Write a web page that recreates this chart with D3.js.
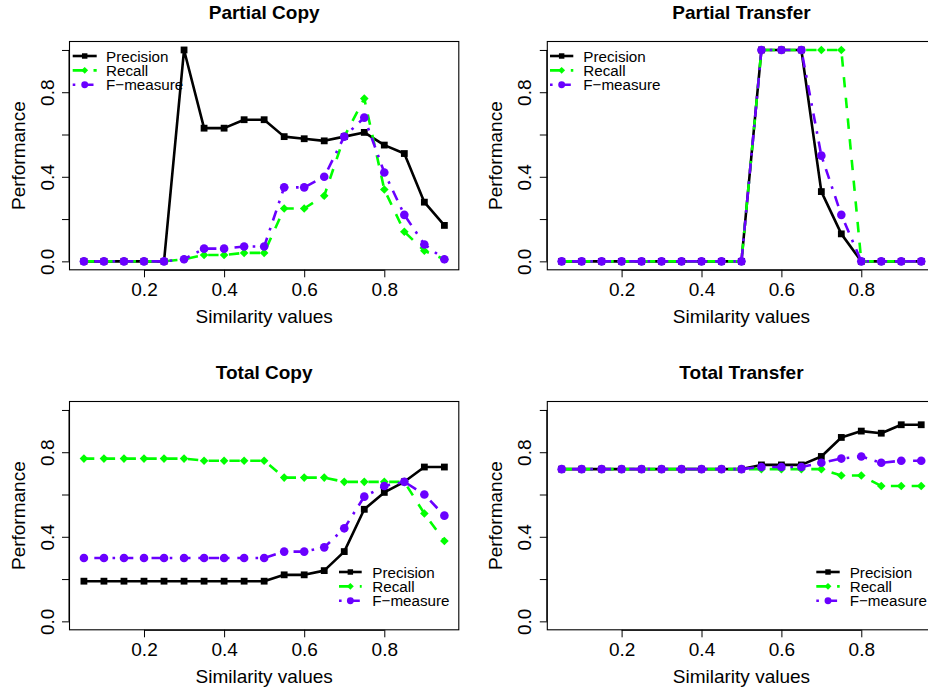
<!DOCTYPE html>
<html><head><meta charset="utf-8">
<script src="https://cdn.jsdelivr.net/npm/d3@7"></script>
<style>html,body{margin:0;padding:0;background:#fff;} svg{display:block;}</style>
</head><body><svg id="chart" width="928" height="692"></svg>
<script>
// ---------- data ----------
const similarity = [0.05,0.10,0.15,0.20,0.25,0.30,0.35,0.40,0.45,0.50,0.55,0.60,0.65,0.70,0.75,0.80,0.85,0.90,0.95];
const xTicks = [0.2,0.4,0.6,0.8];
const xTickLabels = ["0.2","0.4","0.6","0.8"];
const yTicks = [0,0.2,0.4,0.6,0.8,1.0];
const yTickLabels = ["0.0","","0.4","","0.8",""];
const seriesNames = ["Precision","Recall","F\u2212measure"];
const panelTitles = ["Partial Copy","Partial Transfer","Total Copy","Total Transfer"];
const xAxisTitle = "Similarity values";
const yAxisTitle = "Performance";

const partialCopyPrecision = [0,0,0,0,0,1.00,0.63,0.63,0.67,0.67,0.59,0.58,0.57,0.59,0.61,0.55,0.51,0.28,0.17];
const partialCopyRecall    = [0,0,0,0,0,0.01,0.03,0.03,0.04,0.04,0.25,0.25,0.31,0.59,0.77,0.34,0.14,0.05,0.01];
const partialCopyF         = [0,0,0,0,0,0.01,0.06,0.06,0.07,0.07,0.35,0.35,0.40,0.59,0.68,0.42,0.22,0.08,0.01];

const partialTransferPrecision = [0,0,0,0,0,0,0,0,0,0,1,1,1,0.33,0.13,0,0,0,0];
const partialTransferRecall    = [0,0,0,0,0,0,0,0,0,0,1,1,1,1,1,0,0,0,0];
const partialTransferF         = [0,0,0,0,0,0,0,0,0,0,1,1,1,0.50,0.22,0,0,0,0];

const totalCopyPrecision = [0.19,0.19,0.19,0.19,0.19,0.19,0.19,0.19,0.19,0.19,0.22,0.22,0.24,0.33,0.53,0.61,0.66,0.73,0.73];
const totalCopyRecall    = [0.77,0.77,0.77,0.77,0.77,0.77,0.76,0.76,0.76,0.76,0.68,0.68,0.68,0.66,0.66,0.66,0.66,0.51,0.38];
const totalCopyF         = [0.30,0.30,0.30,0.30,0.30,0.30,0.30,0.30,0.30,0.30,0.33,0.33,0.35,0.44,0.59,0.64,0.66,0.60,0.50];

const totalTransferPrecision = [0.72,0.72,0.72,0.72,0.72,0.72,0.72,0.72,0.72,0.72,0.74,0.74,0.74,0.78,0.87,0.90,0.89,0.93,0.93];
const totalTransferRecall    = [0.72,0.72,0.72,0.72,0.72,0.72,0.72,0.72,0.72,0.72,0.72,0.72,0.72,0.72,0.69,0.69,0.64,0.64,0.64];
const totalTransferF         = [0.72,0.72,0.72,0.72,0.72,0.72,0.72,0.72,0.72,0.72,0.73,0.73,0.73,0.75,0.77,0.78,0.75,0.76,0.76];

// ---------- styles ----------
const FONT = "'Liberation Sans', Arial, Helvetica, sans-serif";
const LW = 2.6;
const seriesStyles = [
  {color:"#000000", dash:null, shape:"square"},
  {color:"#00ff00", dash:[4*LW,4*LW].join(","), shape:"diamond"},
  {color:"#6a00ff", dash:[1*LW,3*LW,4*LW,3*LW].join(","), shape:"circle"}
];

// ---------- layout ----------
const panels = [
  {title:panelTitles[0], series:[partialCopyPrecision,partialCopyRecall,partialCopyF],
   x0:69.5, x1:458.8, yT:41.5, yB:269.8, titleY:19, xTickY:296, xLabY:323.3, yTickX:53.5, yLabX:25,
   leg:{l0:72.7, l1:96.7, tx:106, y:56}},
  {title:panelTitles[1], series:[partialTransferPrecision,partialTransferRecall,partialTransferF],
   x0:547.3, x1:935.6, yT:41.5, yB:269.8, titleY:19, xTickY:296, xLabY:323.3, yTickX:531.3, yLabX:502.3,
   leg:{l0:550, l1:573.3, tx:583.3, y:56}},
  {title:panelTitles[2], series:[totalCopyPrecision,totalCopyRecall,totalCopyF],
   x0:69.5, x1:458.8, yT:401.5, yB:629.8, titleY:379.3, xTickY:656, xLabY:683.3, yTickX:53.5, yLabX:25,
   leg:{l0:339, l1:361.7, tx:372.3, y:572}},
  {title:panelTitles[3], series:[totalTransferPrecision,totalTransferRecall,totalTransferF],
   x0:547.3, x1:935.6, yT:401.5, yB:629.8, titleY:379.3, xTickY:656, xLabY:683.3, yTickX:531.3, yLabX:502.3,
   leg:{l0:816.3, l1:839.7, tx:849.7, y:572}}
];

const svg = d3.select("#chart");

function drawSymbol(g, shape, cx, cy, scale, color) {
  if (shape === "square") {
    const s = 6.8*scale;
    g.append("rect").attr("x", cx - s/2).attr("y", cy - s/2).attr("width", s).attr("height", s).attr("fill", color);
  } else if (shape === "circle") {
    g.append("circle").attr("cx", cx).attr("cy", cy).attr("r", 4.3*scale).attr("fill", color);
  } else {
    const r = 4.3*scale;
    g.append("path").attr("d", `M${cx},${cy-r}L${cx+r},${cy}L${cx},${cy+r}L${cx-r},${cy}Z`).attr("fill", color);
  }
}

panels.forEach((p, pi) => {
  const x = d3.scaleLinear().domain([0.014, 0.986]).range([p.x0, p.x1]);
  const y = d3.scaleLinear().domain([-0.04, 1.04]).range([p.yB, p.yT]);
  const g = svg.append("g");

  // title
  g.append("text").attr("x", (p.x0 + p.x1)/2).attr("y", p.titleY)
    .attr("text-anchor", "middle").attr("font-family", FONT).attr("font-size", 19).attr("font-weight", "bold")
    .text(p.title);

  // x axis
  const xAxis = d3.axisBottom(x).tickValues(xTicks).tickSize(7.5).tickPadding(0)
    .tickFormat((d, i) => xTickLabels[i]);
  const xg = g.append("g").attr("transform", `translate(0,${p.yB})`).call(xAxis);
  xg.select(".domain").attr("d", `M${x(xTicks[0])},0.5H${x(xTicks[xTicks.length-1])}`).attr("stroke", "#000");
  xg.selectAll(".tick line").attr("stroke", "#000");
  xg.selectAll(".tick text").attr("y", p.xTickY - p.yB).attr("dy", null)
    .attr("font-family", FONT).attr("font-size", 19).attr("fill", "#000");

  // y axis
  const yAxis = d3.axisLeft(y).tickValues(yTicks).tickSize(7.5).tickPadding(0)
    .tickFormat((d, i) => yTickLabels[i]);
  const yg = g.append("g").attr("transform", `translate(${p.x0},0)`).call(yAxis);
  yg.select(".domain").attr("d", `M-0.5,${y(yTicks[0])}V${y(yTicks[yTicks.length-1])}`).attr("stroke", "#000");
  yg.selectAll(".tick line").attr("stroke", "#000");
  yg.selectAll(".tick text").attr("x", null).attr("dy", null)
    .attr("transform", `translate(${p.yTickX - p.x0},0) rotate(-90)`)
    .attr("text-anchor", "middle").attr("font-family", FONT).attr("font-size", 19).attr("fill", "#000");

  // axis titles
  g.append("text").attr("x", (p.x0 + p.x1)/2).attr("y", p.xLabY)
    .attr("text-anchor", "middle").attr("font-family", FONT).attr("font-size", 19).text(xAxisTitle);
  g.append("text").attr("transform", `translate(${p.yLabX},${(p.yT + p.yB)/2}) rotate(-90)`)
    .attr("text-anchor", "middle").attr("font-family", FONT).attr("font-size", 19).text(yAxisTitle);

  // clip
  const clipId = "clip" + pi;
  svg.append("clipPath").attr("id", clipId).append("rect")
    .attr("x", p.x0).attr("y", p.yT).attr("width", p.x1 - p.x0).attr("height", p.yB - p.yT);
  const plot = g.append("g").attr("clip-path", `url(#${clipId})`);

  const line = d3.line().x((d, i) => x(similarity[i])).y(d => y(d));
  p.series.forEach((vals, si) => {
    const st = seriesStyles[si];
    plot.append("path").attr("d", line(vals)).attr("fill", "none").attr("stroke", st.color)
      .attr("stroke-width", LW).attr("stroke-dasharray", st.dash).attr("stroke-linejoin", "round");
    vals.forEach((v, i) => drawSymbol(plot, st.shape, x(similarity[i]), y(v), 1, st.color));
  });

  // box
  g.append("rect").attr("x", p.x0).attr("y", p.yT).attr("width", p.x1 - p.x0).attr("height", p.yB - p.yT)
    .attr("fill", "none").attr("stroke", "#000").attr("stroke-width", 1.1);

  // legend
  const lg = g.append("g");
  seriesNames.forEach((name, si) => {
    const st = seriesStyles[si];
    const ly = p.leg.y + si*14.35;
    lg.append("line").attr("x1", p.leg.l0).attr("x2", p.leg.l1).attr("y1", ly).attr("y2", ly)
      .attr("stroke", st.color).attr("stroke-width", LW).attr("stroke-dasharray", st.dash);
    drawSymbol(lg, st.shape, (p.leg.l0 + p.leg.l1)/2, ly, 0.8, st.color);
    lg.append("text").attr("x", p.leg.tx).attr("y", ly + 5.5)
      .attr("font-family", FONT).attr("font-size", 15.2).text(name);
  });
});
</script></body></html>
